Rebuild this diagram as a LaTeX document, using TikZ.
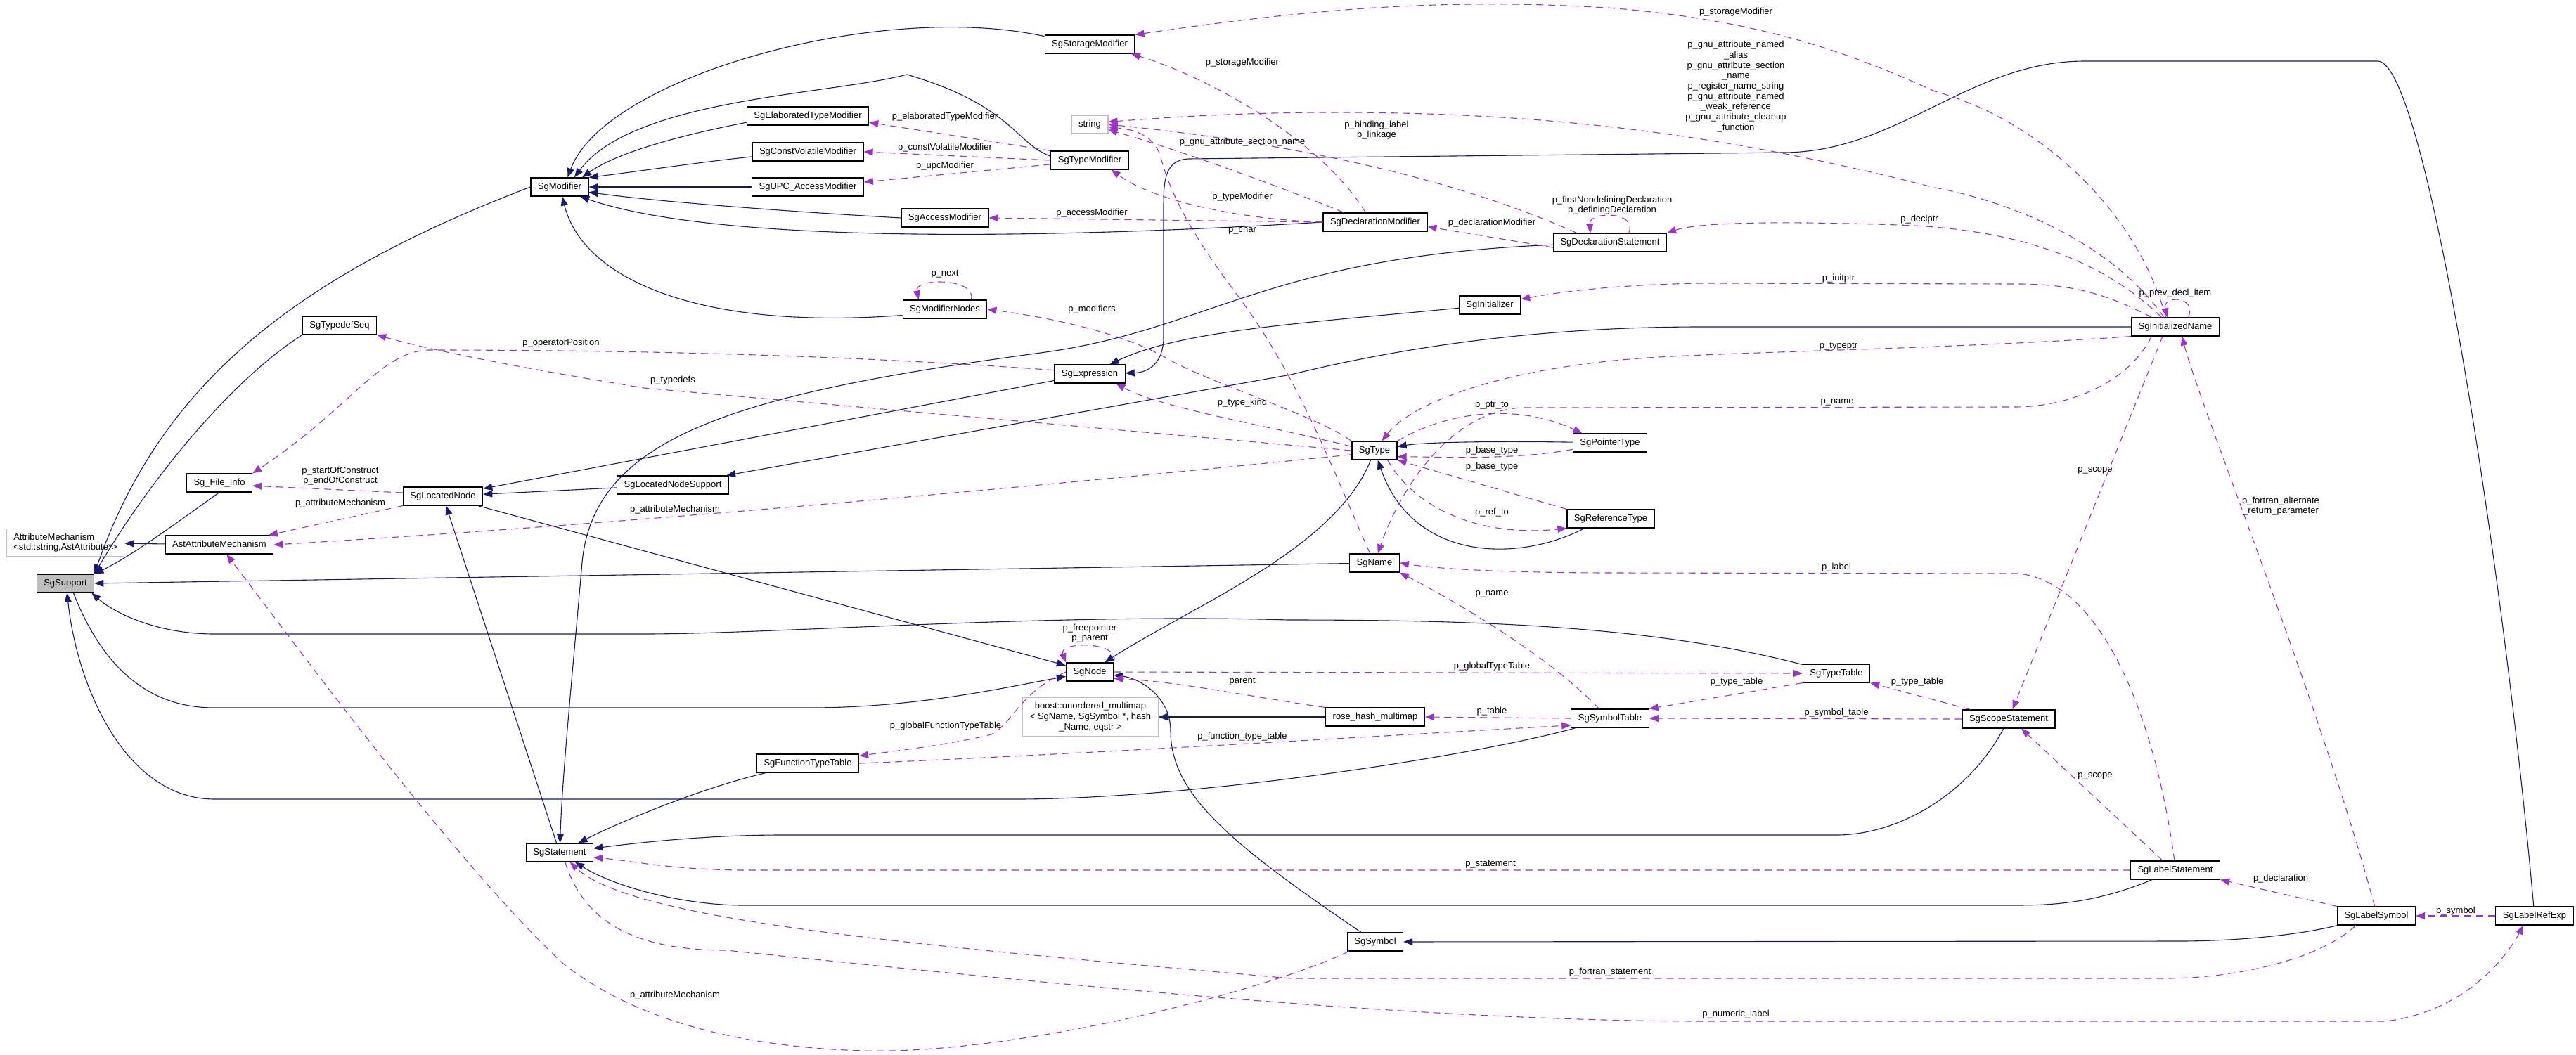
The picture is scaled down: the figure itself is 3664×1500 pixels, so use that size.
\documentclass[tikz,border=0pt]{standalone}
\usepackage{fontspec}
\setmainfont{Liberation Sans}
\usetikzlibrary{arrows.meta}
\definecolor{edgeblue}{HTML}{191970}
\definecolor{edgeorchid}{HTML}{9A32CD}
\definecolor{boxgray}{HTML}{BFBFBF}
\newcommand{\graphfont}{\fontsize{13}{14.7}\selectfont}

\begin{document}
\begin{tikzpicture}[
  x=1pt, y=-1pt,
  cls/.style={draw=black, line width=1.2pt, fill=white, font=\graphfont, inner xsep=10pt, inner ysep=0pt,
              minimum height=26pt, text height=9.5pt, text depth=3pt},
  ext/.style={draw=boxgray, line width=1.2pt, fill=white, font=\graphfont, inner xsep=10pt, inner ysep=6.5pt},
  root/.style={cls, fill=boxgray},
  inh/.style={draw=edgeblue, line width=1.1pt, -{Triangle[length=13pt,width=10pt]}},
  use/.style={draw=edgeorchid, line width=1.1pt, dash pattern=on 10pt off 7pt, -{Triangle[length=13pt,width=10pt]}},
  lbl/.style={font=\graphfont, inner sep=0pt, align=center}
]
\useasboundingbox (0,0) rectangle (3664,1500);

\node[root] (sup) at (93,830) {SgSupport};
\node[ext, align=left] (attm) at (93,772) {AttributeMechanism\\<std::string,AstAttribute*>};
\node[cls] (ast) at (312,775) {AstAttributeMechanism};
\node[cls] (finfo) at (312,687) {Sg\_File\_Info};
\node[cls] (tdseq) at (483,463) {SgTypedefSeq};
\node[cls] (lnode) at (630,706) {SgLocatedNode};
\node[cls] (mod) at (796,266) {SgModifier};
\node[cls] (stmt) at (796,1213) {SgStatement};
\node[cls] (lnsup) at (957,690) {SgLocatedNodeSupport};
\node[cls] (elab) at (1149,165) {SgElaboratedTypeModifier};
\node[cls] (cvol) at (1149,216) {SgConstVolatileModifier};
\node[cls] (upc) at (1149,266) {SgUPC\_AccessModifier};
\node[cls] (fttab) at (1149,1086) {SgFunctionTypeTable};
\node[cls] (acc) at (1344,310) {SgAccessModifier};
\node[cls] (mnodes) at (1344,440) {SgModifierNodes};
\node[cls] (stor) at (1550,63) {SgStorageModifier};
\node[cls, draw=boxgray] (str) at (1550,177) {string};
\node[cls] (tmod) at (1550,228) {SgTypeModifier};
\node[cls] (expr) at (1550,532) {SgExpression};
\node[cls] (sgnode) at (1550,956) {SgNode};
\node[ext, align=center] (boost) at (1551,1020) {boost::unordered\_multimap\\< SgName, SgSymbol *, hash\\\_Name, eqstr >};
\node[cls] (dmod) at (1956,316) {SgDeclarationModifier};
\node[cls] (sgtype) at (1955,641) {SgType};
\node[cls] (sgname) at (1955,801) {SgName};
\node[cls] (rhm) at (1956,1020) {rose\_hash\_multimap};
\node[cls] (sym) at (1956,1340) {SgSymbol};
\node[cls] (init) at (2119,434) {SgInitializer};
\node[cls] (dstmt) at (2290,345) {SgDeclarationStatement};
\node[cls] (ptr) at (2290,630) {SgPointerType};
\node[cls] (ref) at (2291,738) {SgReferenceType};
\node[cls] (symtab) at (2290,1022) {SgSymbolTable};
\node[cls] (typtab) at (2612,958) {SgTypeTable};
\node[cls] (scope) at (2857,1023) {SgScopeStatement};
\node[cls] (iname) at (3094,465) {SgInitializedName};
\node[cls] (lstmt) at (3094,1238) {SgLabelStatement};
\node[cls] (lsym) at (3380,1303) {SgLabelSymbol};
\node[cls] (lref) at (3605,1303) {SgLabelRefExp};

% base classes
\draw[inh] (mod.west) .. controls (430,390) and (230,540) .. (sup.north east);
\draw[inh] (tdseq.south west) .. controls (330,540) and (215,680) .. (sup.north east);
\draw[inh] (finfo.south) .. controls (270,730) and (190,790) .. (sup.north east);
\draw[inh] (ast) -- (attm);
\draw[inh] (sgname) -- (sup.east);
\draw[inh] (typtab) .. controls (2350,890) and (2100,882) .. (1832,882) .. controls (1500,872) and (1100,902) .. (916,902) -- (305,902) .. controls (220,902) and (160,870) .. (sup.-20);
\draw[inh] (symtab) .. controls (2100,1075) and (1700,1137) .. (1444,1137) -- (305,1137) .. controls (180,1137) and (110,980) .. (sup.-80);
\draw[inh] (sup.-50) .. controls (150,960) and (220,1007) .. (305,1007) -- (1150,1007) .. controls (1300,1007) and (1420,980) .. (sgnode);
\draw[inh] (lnode) -- (sgnode);
\draw[inh] (sgtype) .. controls (1900,780) and (1700,860) .. (sgnode);
\draw[inh] (sym) .. controls (1750,1200) and (1665,1130) .. (1665,1040) .. controls (1665,990) and (1620,965) .. (sgnode);
\draw[inh] (expr) -- (lnode);
\draw[inh] (lnsup) -- (lnode);
\draw[inh] (iname.west) -- (2419,465) .. controls (2150,465) and (1950,505) .. (1836,533) -- (lnsup);
\draw[inh] (stmt) -- (lnode);
\draw[inh] (dstmt) .. controls (1800,365) and (1720,470) .. (1480,502) .. controls (1050,560) and (845,620) .. (828,800) .. controls (815,950) and (800,1100) .. (stmt);
\draw[inh] (init) .. controls (1850,460) and (1680,470) .. (expr);
\draw[inh] (lref) .. controls (3560,800) and (3450,87) .. (3382,87) -- (2965,87) .. controls (2800,87) and (2700,217) .. (2536,217) -- (1690,226) .. controls (1655,228) and (1655,260) .. (1655,300) -- (1655,480) .. controls (1655,515) and (1635,530) .. (expr);
\draw[inh] (ptr) .. controls (2100,627) and (2020,630) .. (sgtype);
\draw[inh] (ref.200) .. controls (2160,800) and (2010,800) .. (sgtype);
\draw[inh] (lsym) .. controls (3250,1335) and (3150,1339) .. (3100,1339) -- (sym);
\draw[inh] (rhm) -- (boost);
\draw[inh] (fttab) .. controls (1000,1120) and (880,1170) .. (stmt);
\draw[inh] (scope) .. controls (2800,1130) and (2700,1188) .. (2612,1188) -- (1110,1188) .. controls (1000,1188) and (900,1200) .. (stmt);
\draw[inh] (lstmt) .. controls (2980,1285) and (2920,1288) .. (2865,1288) -- (1057,1288) .. controls (980,1288) and (880,1265) .. (stmt);
\draw[inh] (stor.170) .. controls (1250,0) and (860,110) .. (mod.50);
\draw[inh] (tmod.174) .. controls (1445,205) and (1440,150) .. (1290,106) .. controls (1180,135) and (900,140) .. (mod.33);
\draw[inh] (elab.186) .. controls (980,190) and (880,215) .. (mod.23);
\draw[inh] (cvol.185) .. controls (1000,230) and (900,245) .. (mod.north east);
\draw[inh] (upc) -- (mod);
\draw[inh] (acc.west) .. controls (1100,300) and (920,285) .. (mod.-10);
\draw[inh] (dmod.west) .. controls (1400,345) and (1000,340) .. (mod.-25);
\draw[inh] (mnodes.188) .. controls (1000,470) and (830,400) .. (mod.-75);

% members
\draw[use] (tmod.north west) -- (elab.-6) node[lbl] (l-elab) at (1344,166) {p\_elaboratedTypeModifier};
\draw[use] (tmod.west) -- (cvol.east) node[lbl] (l-cvol) at (1344,210) {p\_constVolatileModifier};
\draw[use] (tmod.186) -- (upc.5) node[lbl] (l-upc) at (1344,236) {p\_upcModifier};
\draw[use] (dmod.west) -- (acc.east) node[lbl] (l-acc) at (1553,303) {p\_accessModifier};
\draw[use] (dmod.west) .. controls (1760,312) and (1640,285) .. (tmod.-24) node[lbl] (l-tmod) at (1767,280) {p\_typeModifier};
\draw[use] (dmod.135) .. controls (1880,200) and (1720,110) .. (stor.-13) node[lbl] (l-stor1) at (1767,89) {p\_storageModifier};
\draw[use] (iname.135) .. controls (3040,300) and (2900,170) .. (2752,130) .. controls (2620,70) and (2500,30) .. (2300,12) .. controls (2050,-5) and (1850,15) .. (stor.north east) node[lbl] (l-stor2) at (2469,17) {p\_storageModifier};
\draw[use] (iname.140) .. controls (3000,340) and (2850,285) .. (2752,267) .. controls (2450,190) and (2200,160) .. (1900,160) .. controls (1750,160) and (1650,168) .. (str.8) node[lbl] (l-gnu) at (2469,123) {p\_gnu\_attribute\_named\\\_alias\\p\_gnu\_attribute\_section\\\_name\\p\_register\_name\_string\\p\_gnu\_attribute\_named\\\_weak\_reference\\p\_gnu\_attribute\_cleanup\\\_function};
\draw[use] (dstmt.164) .. controls (2150,290) and (1950,215) .. (str.east) node[lbl] (l-bind) at (1958,185) {p\_binding\_label\\p\_linkage};
\draw[use] (dmod.163) .. controls (1870,285) and (1700,220) .. (str.-16) node[lbl] (l-sect) at (1767,202) {p\_gnu\_attribute\_section\_name};
\draw[use] (sgname.115) .. controls (1900,680) and (1850,540) .. (1760,420) .. controls (1700,340) and (1665,280) .. (1650,220) .. controls (1640,195) and (1620,185) .. (str.-8) node[lbl] (l-char) at (1767,327) {p\_char};
\draw[use] (dstmt.185) -- (dmod.-5) node[lbl] (l-dmod) at (2122,317) {p\_declarationModifier};
\draw[use] (dstmt.27) .. controls (2330,300) and (2260,300) .. (dstmt.154) node[lbl] (l-decl) at (2293,292) {p\_firstNondefiningDeclaration\\p\_definingDeclaration};
\draw[use] (iname.145) .. controls (2980,360) and (2850,325) .. (2700,320) .. controls (2550,315) and (2420,315) .. (dstmt.north east) node[lbl] (l-dptr) at (2730,312) {p\_declptr};
\draw[use] (iname.158) .. controls (3000,420) and (2950,404) .. (2870,404) -- (2419,403) .. controls (2300,405) and (2220,415) .. (init) node[lbl] (l-iptr) at (2615,396) {p\_initptr};
\draw[use] (iname.south west) .. controls (2800,495) and (2500,500) .. (2360,508) .. controls (2150,520) and (2010,570) .. (sgtype) node[lbl] (l-tptr) at (2615,493) {p\_typeptr};
\draw[use] (iname.36) .. controls (3125,420) and (3075,420) .. (iname.130) node[lbl] (l-prev) at (3094,417) {p\_prev\_decl\_item};
\draw[use] (iname.-143) -- (scope) node[lbl] (l-scope1) at (2980,669) {p\_scope};
\draw[use] (lsym.100) .. controls (3300,1000) and (3130,580) .. (iname.-55) node[lbl] (l-fret) at (3244,720) {p\_fortran\_alternate\\\_return\_parameter};
\draw[use] (iname.-158) .. controls (3030,540) and (2950,579) .. (2865,579) -- (2165,580) .. controls (2060,585) and (1990,700) .. (sgname) node[lbl] (l-name1) at (2613,572) {p\_name};
\draw[use] (lstmt.95) .. controls (3070,1050) and (3000,830) .. (2871,816) -- (2300,815) .. controls (2150,815) and (2050,810) .. (sgname.east) node[lbl] (l-label) at (2612,807) {p\_label};
\draw[use] (lstmt.143) -- (scope.-37) node[lbl] (l-scope2) at (2980,1104) {p\_scope};
\draw[use] (lsym.north west) -- (lstmt.south east) node[lbl] (l-ldecl) at (3244,1250) {p\_declaration};
\draw[use] (lref.west) -- (lsym.east) node[lbl] (l-lsym) at (3493,1296) {p\_symbol};
\draw[use] (lstmt.west) -- (1063,1238) .. controls (960,1238) and (900,1225) .. (stmt.-8) node[lbl] (l-stmt) at (2120,1230) {p\_statement};
\draw[use] (lsym.-155) .. controls (3300,1365) and (3180,1392) .. (3080,1392) -- (1836,1392) .. controls (1300,1345) and (900,1310) .. (stmt.-43) node[lbl] (l-fstmt) at (2290,1383) {p\_fortran\_statement};
\draw[use] (stmt.-60) .. controls (830,1310) and (900,1352) .. (1033,1352) .. controls (1500,1400) and (2000,1452) .. (2419,1453) -- (3393,1453) .. controls (3500,1440) and (3560,1370) .. (lref.-139) node[lbl] (l-num) at (2469,1443) {p\_numeric\_label};
\draw[use] (sym.-160) .. controls (1800,1410) and (1450,1500) .. (1230,1495) .. controls (1050,1490) and (900,1450) .. (800,1370) .. controls (650,1230) and (430,930) .. (ast) node[lbl] (l-attr1) at (960,1416) {p\_attributeMechanism};
\draw[use] (symtab.west) -- (rhm.east) node[lbl] (l-table) at (2122,1012) {p\_table};
\draw[use] (rhm.north west) .. controls (1800,995) and (1680,970) .. (sgnode.-15) node[lbl] (l-parent) at (1767,970) {parent};
\draw[use] (sgnode.east) -- (typtab.west) node[lbl] (l-gtt) at (2122,948) {p\_globalTypeTable};
\draw[use] (sgnode.west) .. controls (1450,985) and (1440,1030) .. (1410,1045) .. controls (1350,1060) and (1260,1070) .. (fttab) node[lbl] (l-gftt) at (1345,1033) {p\_globalFunctionTypeTable};
\draw[use] (fttab.east) .. controls (1500,1075) and (2000,1045) .. (symtab.-170) node[lbl] (l-ftt) at (1767,1048) {p\_function\_type\_table};
\draw[use] (scope.west) -- (symtab.east) node[lbl] (l-symt) at (2612,1014) {p\_symbol\_table};
\draw[use] (scope.166) -- (typtab.south east) node[lbl] (l-tt1) at (2727,970) {p\_type\_table};
\draw[use] (typtab.south west) -- (symtab.north east) node[lbl] (l-tt2) at (2470,970) {p\_type\_table};
\draw[use] (symtab.139) .. controls (2200,930) and (2060,850) .. (sgname.south east) node[lbl] (l-name2) at (2122,845) {p\_name};
\draw[use] (sgnode.north east) .. controls (1595,912) and (1505,912) .. (sgnode.north west) node[lbl] (l-free) at (1550,901) {p\_freepointer\\p\_parent};
\draw[use] (mnodes.20) .. controls (1390,395) and (1300,395) .. (mnodes.160) node[lbl] (l-next) at (1344,390) {p\_next};
\draw[use] (sgtype.north east) .. controls (2050,590) and (2150,570) .. (ptr.161) node[lbl] (l-ptr) at (2122,577) {p\_ptr\_to};
\draw[use] (ptr.190) .. controls (2150,655) and (2050,650) .. (sgtype.-15) node[lbl] (l-base1) at (2122,641) {p\_base\_type};
\draw[use] (ref.north west) -- (sgtype.south east) node[lbl] (l-base2) at (2122,664) {p\_base\_type};
\draw[use] (sgtype.-36) .. controls (2010,720) and (2100,765) .. (ref.south west) node[lbl] (l-ref) at (2122,729) {p\_ref\_to};
\draw[use] (sgtype.north west) .. controls (1870,590) and (1720,545) .. (1660,510) .. controls (1590,470) and (1480,450) .. (mnodes.east) node[lbl] (l-mods) at (1553,440) {p\_modifiers};
\draw[use] (sgtype.170) .. controls (1800,605) and (1650,580) .. (expr.-20) node[lbl] (l-kind) at (1767,573) {p\_type\_kind};
\draw[use] (sgtype.west) -- (916,552) .. controls (750,525) and (620,500) .. (tdseq.south east) node[lbl] (l-tdefs) at (957,541) {p\_typedefs};
\draw[use] (expr.174) .. controls (1200,505) and (900,498) .. (610,498) .. controls (540,500) and (500,580) .. (finfo.north east) node[lbl] (l-opos) at (798,488) {p\_operatorPosition};
\draw[use] (sgtype.190) .. controls (1500,690) and (900,745) .. (ast.east) node[lbl] (l-attr2) at (960,725) {p\_attributeMechanism};
\draw[use] (lnode.south west) -- (ast.11) node[lbl] (l-attr3) at (484,716) {p\_attributeMechanism};
\draw[use] (lnode.175) -- (finfo.-5) node[lbl] (l-cons) at (484,677) {p\_startOfConstruct\\p\_endOfConstruct};
\end{tikzpicture}
\end{document}
